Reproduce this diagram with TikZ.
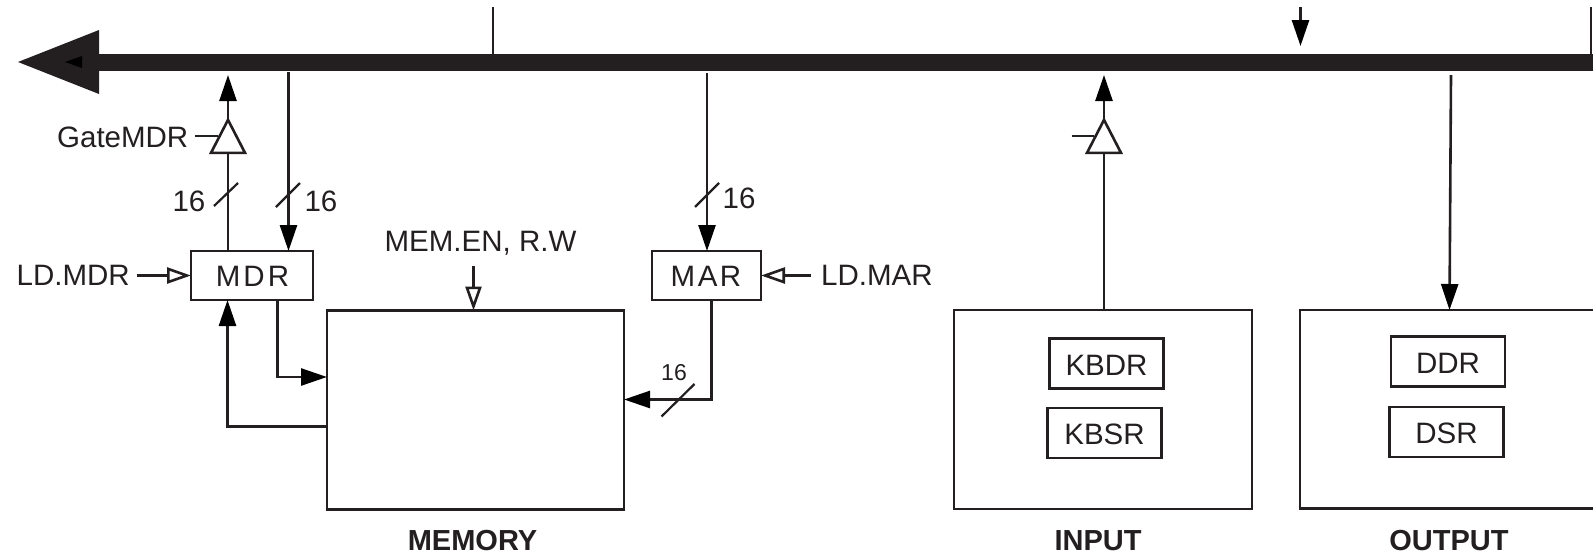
\documentclass[tikz,border=0pt]{standalone}
\usepackage{fontspec}
\setmainfont{Liberation Sans}
\usetikzlibrary{arrows.meta,shapes.geometric}
\definecolor{ink}{HTML}{231F20}
\tikzset{
	regbox/.style={draw=ink,line width=2.6pt,inner sep=0pt,outer sep=0pt},
	wire/.style={draw=ink,line width=2.6pt},
	solidtip/.style={wire,-{Triangle[length=26pt,width=17pt,color=black]}},
	opentip/.style={wire,-{Triangle[open,length=24pt,width=16pt,fill=white]}},
	slash/.style={draw=ink,line width=2.2pt},
	gate/.style={draw=ink,line width=2.6pt,fill=white,isosceles triangle,shape border rotate=90,isosceles triangle stretches,minimum width=34pt,minimum height=33pt,inner sep=0pt,outer sep=0pt},
	lbl/.style={text=ink,inner sep=0pt,font=\fontsize{29.5}{31}\selectfont},
	smalllbl/.style={text=ink,inner sep=0pt,font=\fontsize{23}{25}\selectfont},
	unitlbl/.style={text=ink,inner sep=0pt,font=\fontsize{29}{31}\selectfont\bfseries}
}
\begin{document}
\begin{tikzpicture}[x=1pt,y=-1pt,line cap=butt,line join=miter]
	\useasboundingbox (0,0) rectangle (1593,555);
	% bus
	\fill[ink] (99,53.5) rectangle (1593,71);
	\fill[ink] (18,62) -- (99,30) -- (99,94) -- cycle;
	\fill[black] (65,62) -- (82,56) -- (82,68) -- cycle;
	\coordinate (busa) at (493,54);
	\coordinate (topa) at (493,7);
	\coordinate (topb) at (1300.5,7);
	\coordinate (topbend) at (1300.5,46);
	\coordinate (topc) at (1591,7);
	\coordinate (busc) at (1591,54);
	\draw[wire] (topa) -- (busa);
	\draw[solidtip] (topb) -- (topbend);
	\draw[wire] (topc) -- (busc);
	% registers and units
	\node[regbox,minimum width=122pt,minimum height=49pt] (mdr) at (252,275.5) {};
	\node[lbl] (mdrtxt) at (252.5,276.5) {M\kern3pt D\kern3pt R};
	\node[regbox,minimum width=109pt,minimum height=49pt] (mar) at (706.5,275.5) {};
	\node[lbl] (martxt) at (706,276.5) {M\kern2.5pt A\kern2.5pt R};
	\node[regbox,minimum width=297pt,minimum height=199pt] (mem) at (475.5,410) {};
	\node[regbox,minimum width=298pt,minimum height=199pt] (inp) at (1103,409.5) {};
	\draw[wire] (1593,310) -- (1300,310) -- (1300,508.5) -- (1593,508.5);
	\coordinate (outtop) at (1449.5,310);
	\foreach \nm/\tx/\xa/\ya in {kbdr/KBDR/1106.5/363.5,kbsr/KBSR/1104.5/433,ddr/DDR/1448/361.5,dsr/DSR/1446.5/432}{
		\node[regbox,minimum width=114pt,minimum height=50pt] (\nm) at (\xa,\ya) {};
		\node[lbl] at (\xa,\ya+1.5) {\tx};
	}
	\node[unitlbl] (memlbl) at (472.5,541) {MEMORY};
	\node[unitlbl] (inplbl) at (1098,541) {INPUT};
	\node[unitlbl] (outlbl) at (1449,541) {OUTPUT};
	% gates
	\node[gate] (gatea) at (228,142.5) {};
	\node[gate] (gateb) at (1104,142.5) {};
	\coordinate (busup) at (228,75);
	\coordinate (busupb) at (1104,75);
	\draw[wire] (mdr.north -| gatea) -- (gatea.lower side);
	\draw[solidtip] (gatea.apex) -- (busup);
	\draw[wire] (inp.north -| gateb) -- (gateb.lower side);
	\draw[solidtip] (gateb.apex) -- (busupb);
	\node[lbl,anchor=east] (gatetxt) at (188.5,137) {GateMDR};
	\coordinate (gateaend) at (218,136);
	\coordinate (gatebin) at (1071.5,136);
	\coordinate (gatebend) at (1094,136);
	\draw[wire] (195,136) -- (gateaend);
	\draw[wire] (gatebin) -- (gatebend);
	% bus to registers
	\coordinate (busb) at (288.5,72);
	\coordinate (busm) at (707,73);
	\coordinate (buso) at (1451,75);
	\draw[solidtip] (busb) -- (mdr.north -| busb);
	\draw[solidtip] (busm) -- (mar.north -| busm);
	\draw[solidtip] (buso) -- (outtop);
	\draw[slash] (214,206) -- (238,183);
	\draw[slash] (276,207) -- (300,183);
	\draw[slash] (695,207) -- (719,183);
	\draw[slash] (661.5,416.5) -- (694.5,384);
	\node[lbl] (na) at (189,201) {16};
	\node[lbl] (nb) at (321,201) {16};
	\node[lbl] (nc) at (739,198) {16};
	\node[smalllbl] (nd) at (674,373) {16};
	% memory links
	\draw[solidtip] (277.5,300) |- (mem.west |- 0,377);
	\draw[solidtip] (mem.west |- 0,426.5) -| (mdr.south -| 227.5,0);
	\draw[solidtip] (711.5,300) |- (mem.east |- 0,399.5);
	% control signals
	\node[lbl] (memctl) at (480.5,243) {MEM.EN, R.W};
	\coordinate (memin) at (473.5,266);
	\draw[opentip] (memin) -- (memin |- mem.north);
	\node[lbl,anchor=west] (ldmdr) at (16.5,275) {LD.MDR};
	\coordinate (ldmdrin) at (137,275.5);
	\draw[opentip] (ldmdrin) -- (ldmdrin -| mdr.west);
	\node[lbl,anchor=west] (ldmar) at (821,275) {LD.MAR};
	\coordinate (ldmarin) at (811,275.5);
	\draw[opentip] (ldmarin) -- (ldmarin -| mar.east);
\end{tikzpicture}
\end{document}
